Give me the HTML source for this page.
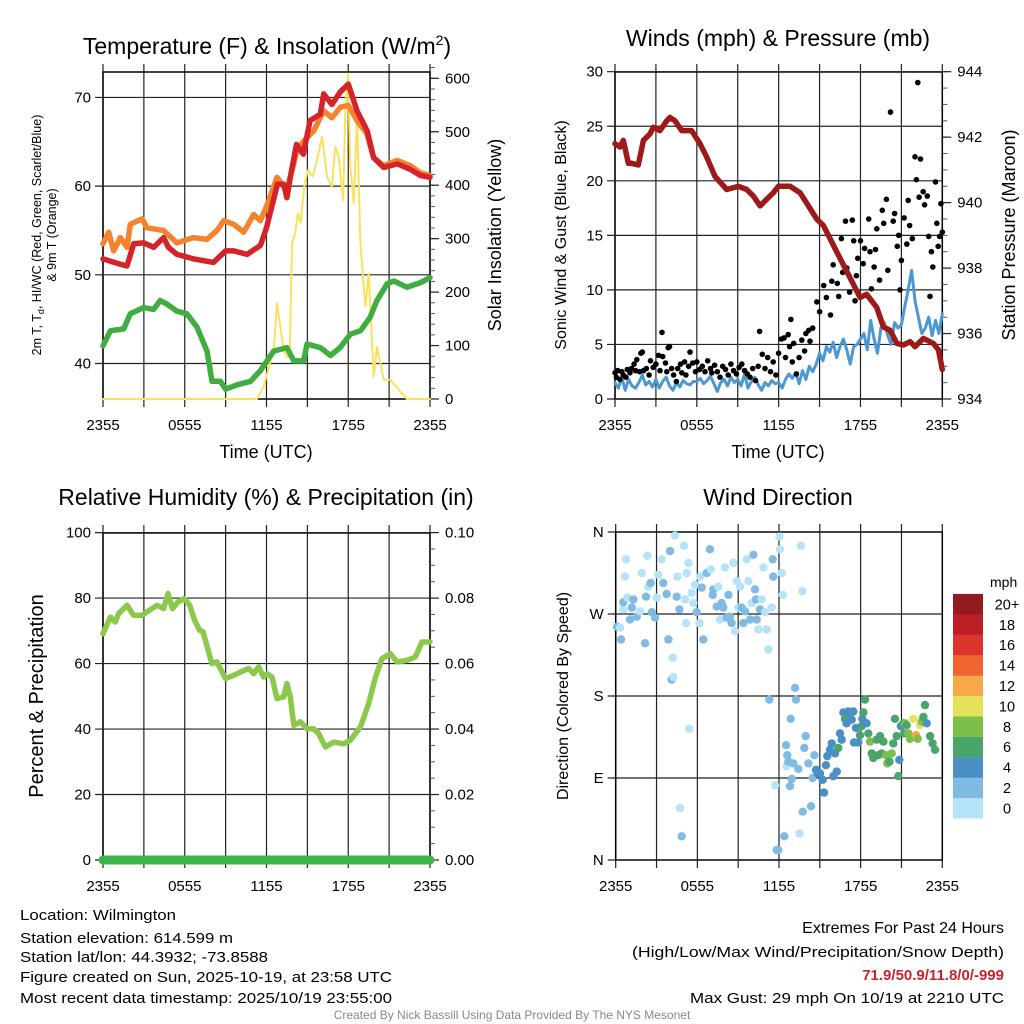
<!DOCTYPE html>
<html><head><meta charset="utf-8"><style>
html,body{margin:0;padding:0;background:#fff;}
svg{display:block;font-family:"Liberation Sans",sans-serif;}
</style></head><body>
<svg id="fig" width="1024" height="1024" viewBox="0 0 1024 1024" xmlns="http://www.w3.org/2000/svg">
<rect x="0" y="0" width="1024" height="1024" fill="#fff"/>
<text x="267" y="54" font-size="23" text-anchor="middle">Temperature (F) &amp; Insolation (W/m<tspan font-size="14" dy="-9">2</tspan><tspan dy="9">)</tspan></text>
<text x="778" y="46" font-size="23" text-anchor="middle">Winds (mph) &amp; Pressure (mb)</text>
<text x="266" y="505" font-size="23" text-anchor="middle">Relative Humidity (%) &amp; Precipitation (in)</text>
<text x="778" y="505" font-size="23" text-anchor="middle">Wind Direction</text>
<text x="266" y="458" font-size="18" text-anchor="middle">Time (UTC)</text>
<text x="778" y="458" font-size="18" text-anchor="middle">Time (UTC)</text>
<text transform="translate(41,235) rotate(-90)" font-size="12.5" text-anchor="middle">2m T, T<tspan font-size="9" dy="3">d</tspan><tspan dy="-3">, HI/WC (Red, Green, Scarlet/Blue)</tspan></text>
<text transform="translate(56,235) rotate(-90)" font-size="12.5" text-anchor="middle">&amp; 9m T (Orange)</text>
<text transform="translate(501,235) rotate(-90)" font-size="18" text-anchor="middle">Solar Insolation (Yellow)</text>
<text transform="translate(566,235) rotate(-90)" font-size="16" text-anchor="middle">Sonic Wind &amp; Gust (Blue, Black)</text>
<text transform="translate(1015,235) rotate(-90)" font-size="18" text-anchor="middle">Station Pressure (Maroon)</text>
<text transform="translate(43,696) rotate(-90)" font-size="20" text-anchor="middle">Percent &amp; Precipitation</text>
<text transform="translate(568,696) rotate(-90)" font-size="16" text-anchor="middle">Direction (Colored By Speed)</text>
<text x="990" y="587" font-size="14">mph</text>
<g font-size="15">
<text x="20" y="920" textLength="156" lengthAdjust="spacingAndGlyphs">Location: Wilmington</text>
<text x="20" y="943" textLength="213" lengthAdjust="spacingAndGlyphs">Station elevation: 614.599 m</text>
<text x="20" y="962" textLength="248" lengthAdjust="spacingAndGlyphs">Station lat/lon: 44.3932; -73.8588</text>
<text x="20" y="982" textLength="372" lengthAdjust="spacingAndGlyphs">Figure created on Sun, 2025-10-19, at 23:58 UTC</text>
<text x="20" y="1003" textLength="372" lengthAdjust="spacingAndGlyphs">Most recent data timestamp: 2025/10/19 23:55:00</text>
</g>
<g font-size="15" text-anchor="end">
<text x="1004" y="933" font-size="16">Extremes For Past 24 Hours</text>
<text x="1004" y="957" textLength="372" lengthAdjust="spacingAndGlyphs">(High/Low/Max Wind/Precipitation/Snow Depth)</text>
<text x="1004" y="980" fill="#c8232b" font-weight="bold">71.9/50.9/11.8/0/-999</text>
<text x="1004" y="1003" textLength="314" lengthAdjust="spacingAndGlyphs">Max Gust: 29 mph On 10/19 at 2210 UTC</text>
</g>
<text x="512" y="1019" font-size="12" fill="#888" text-anchor="middle">Created By Nick Bassill Using Data Provided By The NYS Mesonet</text>
</svg>
<script>
// ---------- DATA ----------
const xTickLabels = ["2355","0555","1155","1755","2355"];
const tempHours = [0,1.27,1.76,2.25,2.98,3.72,4.45,4.8,5.43,6.65,8.12,9.0,9.6,10.57,11.55,12.0,12.8,13.26,13.5,13.75,14.2,14.7,15.2,15.95,16.2,16.8,17.4,18.0,18.64,19.4,19.86,20.6,21.6,22.55,23.3,24];
const tempRed = [51.8,51.2,51.0,53.5,53.6,53.1,54.2,53.1,52.3,51.8,51.4,52.7,52.7,52.3,53.3,55.3,60.2,60.2,58.7,61.0,64.7,63.6,67.4,68.1,70.4,69.2,70.6,71.5,68.5,66.2,63.2,62.1,62.5,61.9,61.2,61.0];
const orangeHours = [0,0.42,0.78,1.27,1.76,2.0,2.86,3.23,4.45,5.43,6.65,7.63,8.37,8.86,9.6,10.33,11.06,11.55,12.16,12.77,13.5,14.24,14.73,15.46,16.2,16.8,17.43,18.0,18.64,19.37,19.86,20.6,21.58,22.56,23.29,24];
const tempOrange = [53.5,54.8,52.7,54.2,53.1,55.7,56.3,55.3,55.0,53.6,54.2,54.0,55.0,56.1,55.7,54.8,56.8,56.1,58.3,61.0,59.5,64.0,65.1,66.2,68.5,67.7,68.9,69.1,67.4,65.9,63.2,62.3,62.9,62.3,61.5,61.2];
const greenHours = [0,0.54,1.52,2.0,2.98,3.72,4.2,4.7,5.43,6.16,6.9,7.63,8.0,8.62,9.0,9.85,10.83,11.55,12.53,13.5,14.0,14.73,14.97,15.95,16.7,17.4,18.16,18.9,19.6,20.1,20.86,21.35,22.3,23.29,24];
const tempGreen = [42.0,43.7,43.9,45.6,46.3,46.1,47.1,46.7,45.9,45.6,44.1,41.4,38.0,38.0,37.1,37.6,38.0,39.2,41.4,41.8,40.3,40.3,42.2,41.8,40.9,41.8,43.3,43.7,45.2,47.1,49.0,49.3,48.6,49.1,49.7];
const solarHours = [0,11.3,11.79,12.53,12.77,13.26,13.5,13.7,13.87,14.11,14.3,14.5,14.8,15.05,15.4,15.7,16.07,16.44,16.8,17.05,17.3,17.62,17.79,17.98,18.15,18.4,18.64,18.89,19.26,19.5,19.87,20.11,20.6,21.09,22.3,24];
const solarValues = [0,0,23,92,179,92,79,79,291,310,347,330,404,428,416,447,491,416,397,472,453,372,541,609,435,366,528,291,173,235,42,98,36,36,0,0];
const temperatureTicks = [40,50,60,70];
const solarTicks = [0,100,200,300,400,500,600];

const windHours = []; // filled by index below (every 0.25 h)
const windSpeed = [1.5,1.0,2.0,0.8,1.8,1.2,1.0,1.5,2.2,1.3,1.6,1.1,
1.8,1.0,1.6,2.0,1.2,0.8,1.5,1.1,1.7,1.4,1.3,1.6,
1.6,1.9,1.4,1.7,2.1,1.4,0.7,1.5,1.8,1.2,2.0,1.5,
1.8,1.2,2.3,1.0,1.6,2.0,1.3,0.8,1.5,1.2,1.7,1.4,
1.5,1.0,1.8,2.3,1.9,2.4,1.4,2.6,1.8,3.0,2.5,3.2,
4.2,3.5,4.8,4.3,5.2,3.8,4.8,5.5,4.5,3.2,4.8,5.0,
5.5,6.0,4.5,7.2,5.5,4.2,6.5,7.0,5.8,5.0,7.0,6.5,
6.8,8.5,10.0,11.8,9.0,7.5,6.0,6.5,7.5,5.8,7.2,6.0,7.8];
const gustHours = [0,0.1,0.2,0.35,0.5,0.6,0.8,0.9,1.1,1.2,1.4,1.5,1.6,1.8,1.9,2.0,2.1,2.3,2.5,2.6,2.8,3.0,3.2,3.3,3.45,3.5,3.7,3.8,3.9,4.0,4.15,4.3,4.5,4.6,4.8,4.9,5.1,5.2,5.4,5.5,5.7,5.9,6.0,6.2,6.4,6.6,6.8,7.0,7.1,7.3,7.5,7.7,7.9,8.1,8.3,8.5,8.7,8.9,9.1,9.3,9.5,9.7,9.9,10.1,10.3,10.5,10.6,10.8,11.0,11.2,11.4,11.6,11.8,12.0,12.2,12.4,12.5,12.7,12.8,12.9,13.0,13.1,13.3,13.5,13.7,13.9,14.0,14.2,14.3,14.5,14.8,15.0,15.3,15.5,15.8,15.9,16.0,16.3,16.4,16.6,16.7,16.9,17.0,17.2,17.4,17.5,17.6,17.7,17.8,18.0,18.2,18.3,18.6,18.7,18.8,19.0,19.1,19.2,19.4,19.6,19.7,19.9,20.0,20.2,20.4,20.5,20.7,20.8,20.9,21.0,21.2,21.4,21.5,21.6,21.8,22.0,22.1,22.2,22.3,22.4,22.6,22.7,22.9,23.0,23.1,23.2,23.3,23.5,23.6,23.7,23.8,23.9,24.0];
const gustSpeed = [2.4,2.0,2.6,1.8,2.5,2.2,2.0,2.7,2.4,2.8,3.2,2.6,3.6,2.5,4.2,4.3,2.6,2.8,2.2,3.5,2.9,3.2,4.0,2.6,6.1,3.9,3.3,2.5,4.7,4.8,2.8,2.2,1.6,2.8,3.2,2.4,3.4,2.2,3.0,4.3,3.3,2.5,3.4,2.7,3.0,2.5,3.5,2.8,2.4,3.1,2.5,2.0,3.0,2.7,2.2,3.2,2.6,2.3,2.9,3.2,2.6,2.3,2.0,2.8,1.7,3.0,6.2,4.1,2.8,3.8,2.5,3.4,2.2,4.2,5.5,5.6,3.8,5.9,4.8,7.3,3.4,5.1,2.3,3.8,5.4,4.4,6.0,6.3,5.3,6.5,8.9,8.0,10.4,9.3,7.7,10.8,12.3,10.6,9.4,14.7,11.6,16.3,12.0,9.8,16.4,14.5,9.0,11.3,12.9,14.5,12.4,13.8,16.5,13.5,10.1,12.1,13.7,15.6,10.9,17.3,16.1,18.3,11.8,26.3,16.3,17.0,14.0,15.0,10.0,12.7,16.6,14.2,18.2,15.9,14.7,22.2,20.1,29.0,18.5,22.0,19.0,17.8,18.6,14.9,9.4,13.5,12.1,19.9,16.1,14.0,14.9,17.9,15.3];
const pressureHours = [0,0.37,0.61,0.98,1.22,1.71,2.08,2.57,2.81,3.30,3.79,4.03,4.40,4.89,5.62,6.23,6.72,7.33,8.19,9.05,9.66,10.15,10.64,11.12,11.61,11.98,12.84,13.57,14.18,14.79,15.28,15.89,16.5,17.24,17.97,18.46,19.19,19.68,20.17,20.66,21.15,21.64,22.0,22.62,23.35,23.72,24];
const pressureValues = [941.8,941.7,941.9,941.2,941.2,941.15,941.9,942.1,942.3,942.2,942.5,942.6,942.5,942.2,942.2,941.8,941.4,940.8,940.4,940.5,940.4,940.2,939.9,940.1,940.3,940.5,940.5,940.3,939.9,939.5,939.3,938.8,938.3,937.7,937.1,937.2,936.8,936.2,936.1,935.7,935.65,935.75,935.6,935.85,935.7,935.5,934.9];
const windTicks = [0,5,10,15,20,25,30];
const pressureTicks = [934,936,938,940,942,944];

const rhHours = [0,0.54,0.9,1.15,1.76,2.25,2.86,3.23,3.96,4.45,4.77,5.09,5.5,5.97,6.36,6.72,7.09,7.34,7.99,8.36,8.98,9.59,10.08,10.69,11.06,11.42,11.79,12.04,12.4,12.77,13.26,13.5,13.75,14.0,14.48,14.97,15.46,15.83,16.32,16.93,17.67,18.16,18.89,19.5,20.0,20.48,21.09,21.58,22.31,22.92,23.41,24];
const rhValues = [69.1,74.2,72.7,75.3,77.8,74.7,74.7,75.8,77.8,76.8,81.4,76.8,78.8,79.8,77.8,73.2,70.2,69.7,60.0,60.5,55.4,56.4,57.4,58.5,56.9,59.0,55.9,56.9,55.9,49.3,49.8,53.9,49.8,41.1,42.2,40.1,40.1,38.6,34.5,36.0,35.5,36.6,40.6,47.8,55.9,61.5,63.0,60.5,61.0,62.0,66.6,66.6];
const precipHours = [0,24];
const precipValues = [0,0];
const rhTicks = [0,20,40,60,80,100];
const precipTicks = ["0.00","0.02","0.04","0.06","0.08","0.10"];

const dirHours = [0.1,0.32,0.39,0.56,0.69,0.76,0.56,0.86,1.05,1.18,1.30,1.54,1.79,1.91,2.16,2.23,2.33,2.40,2.57,2.65,2.89,3.01,3.13,3.38,3.50,3.75,3.87,3.99,4.11,4.19,4.24,4.36,4.48,4.53,4.68,4.73,4.85,5.02,5.09,5.17,5.22,5.34,5.41,5.58,5.71,5.83,5.95,6.15,6.20,6.32,6.44,6.69,6.93,6.98,7.13,7.18,7.42,7.54,7.67,7.79,7.91,8.03,8.16,8.28,8.40,8.52,8.65,8.77,8.89,9.01,9.14,9.26,9.38,9.50,9.63,9.75,9.87,9.99,10.12,10.24,10.31,10.36,10.48,10.60,10.73,10.85,10.97,11.09,11.22,11.29,11.46,11.54,11.58,11.71,11.83,11.95,12.03,12.07,12.20,12.27,12.39,12.52,12.56,12.61,12.69,12.81,12.86,12.93,13.05,13.18,13.25,13.42,13.50,13.62,13.72,13.74,13.86,13.96,14.16,14.35,14.47,14.60,14.72,14.84,15.01,15.21,15.31,15.45,15.55,15.75,15.87,15.99,16.12,16.24,16.36,16.48,16.61,16.73,16.85,16.97,17.10,17.22,17.34,17.46,17.51,17.66,17.83,17.95,18.08,18.12,18.20,18.32,18.44,18.56,18.69,18.81,18.93,19.18,19.30,19.42,19.54,19.67,19.86,19.96,20.11,20.28,20.40,20.52,20.65,20.77,20.84,20.96,21.14,21.19,21.26,21.38,21.50,21.63,21.87,22.07,22.19,22.36,22.48,22.61,22.73,22.85,23.10,23.29,23.46,23.59,23.71,23.83,23.95];
const dirDegrees = [256,255,242,275,311,330,283,288,264,277,286,267,273,315,238,289,334,300,304,272,266,288,313,330,304,292,242,339,198,222,201,356,289,311,275,57,26,345,286,260,315,326,144,293,282,302,272,260,311,299,242,315,341,319,291,297,278,300,264,282,277,321,266,291,267,260,326,251,306,277,300,277,260,273,330,306,264,282,335,297,286,264,253,275,286,321,272,253,231,176,277,330,311,82,11,11,355,341,315,291,26,126,103,115,108,81,155,89,106,189,176,100,29,345,295,53,123,136,106,59,90,115,99,95,95,88,74,104,114,121,128,92,117,97,123,139,132,162,155,150,163,161,154,163,129,145,129,137,147,155,162,176,150,139,130,117,112,132,115,136,117,130,115,106,108,117,128,155,136,92,110,147,150,139,150,148,139,133,155,137,133,148,152,157,170,150,136,128,121];
const dirSpeed = [3,1,3,1,1,1,3,1,3,3,3,3,1,1,3,3,1,1,3,3,3,1,1,1,3,3,3,3,3,1,1,1,3,1,3,1,3,1,1,1,1,1,1,1,1,1,3,1,1,3,3,3,3,1,3,3,3,1,1,3,3,1,3,3,3,3,1,1,1,1,1,3,3,3,1,1,3,1,3,3,3,3,1,3,1,1,1,1,1,3,1,3,3,1,3,3,1,1,1,1,3,3,1,3,3,3,3,3,3,3,3,3,1,1,1,3,3,3,3,3,3,3,5,5,5,5,5,5,5,5,5,5,5,5,7,5,5,5,7,5,5,5,5,5,5,5,5,7,7,5,7,7,5,7,9,7,7,7,7,7,7,7,9,9,7,9,7,7,7,7,5,5,7,7,9,7,9,9,11,13,9,11,9,7,7,5,7,7,7,7,9];
const dirTickLabels = ["N","E","S","W","N"];
const dirTickValues = [0,90,180,270,360];
const cbLabels = ["0","2","4","6","8","10","12","14","16","18","20+"];
const cbColors = ["#b5e3f8","#80bbe4","#4a8fc6","#4aa56c","#7cc04a","#e6e15b","#f5a948","#ef6430","#dd352c","#bd1f27","#931a1e"];

for (let i = 0; i < windSpeed.length; i++) windHours.push(i * 0.25);

// ---------- RENDER ----------
const NS = "http://www.w3.org/2000/svg";
const svg = document.getElementById("fig");
function mk(tag, attrs, parent) {
  const el = document.createElementNS(NS, tag);
  for (const k in attrs) el.setAttribute(k, attrs[k]);
  (parent || svg).appendChild(el);
  return el;
}
function txt(x, y, s, size, anchor, parent) {
  const t = mk("text", {x: x, y: y, "font-size": size, "text-anchor": anchor}, parent);
  t.textContent = s;
  return t;
}
function pathFrom(xs, ys, fx, fy) {
  let d = "";
  const n = Math.min(xs.length, ys.length);
  for (let i = 0; i < n; i++) d += (i ? "L" : "M") + fx(xs[i]).toFixed(1) + "," + fy(ys[i]).toFixed(1);
  return d;
}

function frame(name, L, T, W, H, xFn) {
  const g = mk("g", {});
  
  
  for (let k = 0; k <= 8; k++) {
    const x = xFn(k * 3);
    const ln = mk("line", {x1: x, y1: T - 8, x2: x, y2: T + H + 8, stroke: "#222", "stroke-width": 1.2}, g);
    
    
  }
  for (let k = 0; k < xTickLabels.length; k++) {
    const t = txt(xFn(k * 6), T + H + 31, xTickLabels[k], 15, "middle", g);
    
    
  }
  const r = mk("rect", {x: L, y: T, width: W, height: H, fill: "none", stroke: "#000", "stroke-width": 1.5}, g);
  
  
  return g;
}
function leftAxis(g, L, R, ticks, labels, fy, gridOn) {
  for (let i = 0; i < ticks.length; i++) {
    const y = fy(ticks[i]);
    const ln = mk("line", {x1: L - 8, y1: y, x2: gridOn ? R : L, y2: y, stroke: "#222", "stroke-width": 1.2}, g);
    
    
    const t = txt(L - 12, y + 5, labels[i], 15, "end", g);
    
    
  }
}
function rightAxis(g, R, ticks, labels, fy, minorStep, lo, hi) {
  for (let v = lo; v <= hi + 1e-9; v += minorStep) {
    const y = fy(v);
    const m = mk("line", {x1: R, y1: y, x2: R + 5, y2: y, stroke: "#555", "stroke-width": 1}, g);
    
    
  }
  for (let i = 0; i < ticks.length; i++) {
    const y = fy(ticks[i]);
    const ln = mk("line", {x1: R, y1: y, x2: R + 9, y2: y, stroke: "#222", "stroke-width": 1.2}, g);
    
    
    const t = txt(R + 15, y + 5, labels[i], 15, "start", g);
    
    
  }
}
function line(name, xs, ys, fx, fy, color, w) {
  const p = mk("path", {d: pathFrom(xs, ys, fx, fy), fill: "none", stroke: color, "stroke-width": w, "stroke-linejoin": "round", "stroke-linecap": "round"});
  
  
  return p;
}

// Panel 1
const x1 = h => 103 + h * 327 / 24;
const yT = v => 399 - (v - 36) * 8.87;
const yS = w => 399 - w * 0.5345;
const g1 = frame("temperature-panel", 103, 72, 327, 327, x1);
leftAxis(g1, 103, 430, temperatureTicks, temperatureTicks.map(String), yT, true);
rightAxis(g1, 430, solarTicks, solarTicks.map(String), yS, 20, 0, 620);
line("solar-insolation-line", solarHours, solarValues, x1, yS, "#fbe25a", 2);
line("temperature-9m-line", orangeHours, tempOrange, x1, yT, "#f4832c", 5.5);
line("temperature-2m-line", tempHours, tempRed, x1, yT, "#d5232a", 5.5);
line("dewpoint-line", greenHours, tempGreen, x1, yT, "#40ad3f", 5.5);

// Panel 2
const x2 = h => 615 + h * 327.3 / 24;
const yW = v => 399 - v * 10.91;
const yP = p => 399 - (p - 934) * 32.73;
const g2 = frame("winds-panel", 615, 72, 327.3, 327, x2);
leftAxis(g2, 615, 942.3, windTicks, windTicks.map(String), yW, true);
rightAxis(g2, 942.3, pressureTicks, pressureTicks.map(String), yP, 0.5, 934, 944);
line("sonic-wind-line", windHours, windSpeed, x2, yW, "#4b98d5", 3);
const gustG = mk("g", {fill: "#000"});


const nG = Math.min(gustHours.length, gustSpeed.length);
for (let i = 0; i < nG; i++) {
  const c = mk("circle", {cx: x2(gustHours[i]).toFixed(1), cy: yW(gustSpeed[i]).toFixed(1), r: 2.8}, gustG);
  
  
}
line("station-pressure-line", pressureHours, pressureValues, x2, yP, "#9e1a1a", 5.5);

// Panel 3
const yR = v => 860 - v * 3.274;
const g3 = frame("humidity-panel", 103, 533, 327, 327, x1);
leftAxis(g3, 103, 430, rhTicks, rhTicks.map(String), yR, true);
rightAxis(g3, 430, rhTicks, precipTicks, yR, 5, 0, 100);
line("relative-humidity-line", rhHours, rhValues, x1, yR, "#8cc84b", 5.5);
line("precipitation-line", precipHours, precipValues, x1, v => 860 - v * 3274, "#3db54a", 9);

// Panel 4
const x4 = h => 615.7 + h * 326.6 / 24;
const yD = d => 860 - d * 328 / 360;
const g4 = frame("wind-direction-panel", 615.7, 532, 326.6, 328, x4);
leftAxis(g4, 615.7, 942.3, dirTickValues, dirTickLabels, yD, true);
const dirG = mk("g", {});


const nD = Math.min(dirHours.length, dirDegrees.length, dirSpeed.length);
for (let i = 0; i < nD; i++) {
  const bin = Math.min(10, Math.floor(dirSpeed[i] / 2));
  const c = mk("circle", {cx: x4(dirHours[i]).toFixed(1), cy: yD(dirDegrees[i]).toFixed(1), r: 4.2, fill: cbColors[bin]}, dirG);
  
  
}
// colorbar
const cb = mk("g", {});


for (let i = 0; i < cbColors.length; i++) {
  const y = 818.3 - (i + 1) * 20.4;
  const r = mk("rect", {x: 953, y: y.toFixed(1), width: 30, height: 20.6, fill: cbColors[i]}, cb);
  
  
  const t = txt(1007, y + 15.5, cbLabels[i], 14.5, "middle", cb);
  
  
}
</script>
</body></html>
